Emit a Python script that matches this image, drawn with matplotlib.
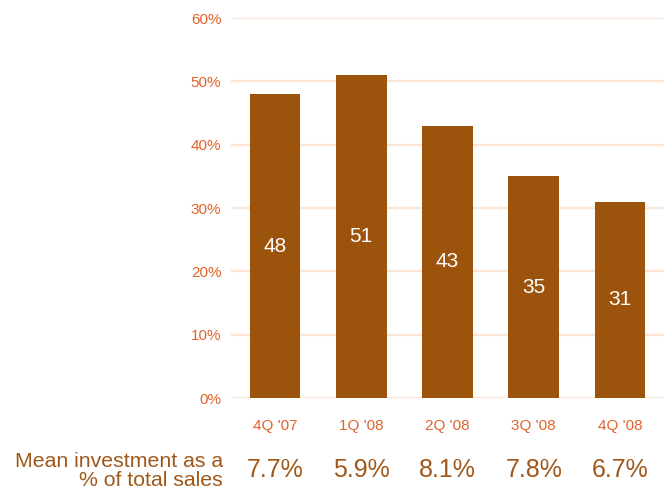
import matplotlib.pyplot as plt
import numpy as np

plt.rcParams['font.family'] = ['Liberation Sans', 'DejaVu Sans']

quarters = ["4Q '07", "1Q '08", "2Q '08", "3Q '08", "4Q '08"]
share = [48, 51, 43, 35, 31]
mean_invest = ['7.7%', '5.9%', '8.1%', '7.8%', '6.7%']

bar_color = '#9C530B'
tick_color = '#E0622A'
grid_color = '#FDE5D5'
text_color = '#A0581A'

fig = plt.figure(figsize=(6.67, 4.91), dpi=100)
ax = fig.add_axes([0.3463, 0.1894, 0.6492, 0.7739])

x = np.arange(len(quarters))
bars = ax.bar(x, share, width=0.59, color=bar_color, zorder=3)

for xi, v in zip(x, share):
    ax.text(xi, v / 2, str(v), ha='center', va='center', color='white',
            fontsize=15, zorder=4)

ax.set_ylim(0, 60)
ax.set_xlim(-0.51, 4.51)
ax.set_yticks(np.arange(0, 61, 10))
ax.set_yticklabels([f'{t}%' for t in range(0, 61, 10)])
ax.set_xticks(x)
ax.set_xticklabels(quarters)
ax.tick_params(axis='both', length=0, colors=tick_color, labelsize=11)
ax.tick_params(axis='y', pad=7)
ax.tick_params(axis='x', pad=15)
ax.grid(axis='y', color=grid_color, linewidth=1.6, zorder=0)
for s in ax.spines.values():
    s.set_visible(False)

# mean investment row under the axis
for xi, t in zip(x, mean_invest):
    ax.text(xi, -11.3, t, ha='center', va='center', color=text_color,
            fontsize=18, transform=ax.transData, clip_on=False)
fig.text(223 / 667, 1 - 471 / 491, 'Mean investment as a\n% of total sales',
         ha='right', va='center', color=text_color, fontsize=15.3,
         linespacing=1.02)

fig.savefig('out.png', dpi=100)
